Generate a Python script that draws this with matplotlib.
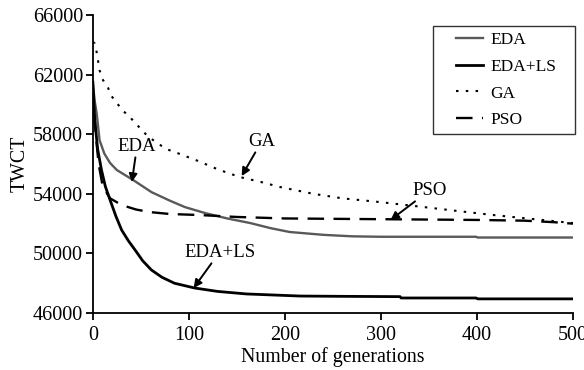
import matplotlib
matplotlib.use("Agg")
import matplotlib.pyplot as plt
from matplotlib.legend_handler import HandlerLine2D
import numpy as np

plt.rcParams['font.family'] = ['Liberation Serif', 'DejaVu Serif']

# Data
eda_x = [0, 2, 4, 7, 12, 18, 25, 42, 61, 80, 96, 117, 140, 164, 185, 205, 240, 270, 300, 350, 399, 401, 450, 500]
eda_y = [61400, 60200, 59400, 57600, 56700, 56070, 55600, 54930, 54120, 53550, 53110, 52710, 52350, 52040, 51700, 51440, 51250, 51150, 51120, 51120, 51120, 51070, 51070, 51070]

edals_x = [0, 2, 5, 9, 13, 18, 24, 30, 37, 44, 52, 61, 72, 85, 106, 130, 160, 216, 260, 320, 321, 399, 401, 500]
edals_y = [61500, 58950, 57000, 55600, 54500, 53580, 52500, 51570, 50850, 50230, 49500, 48890, 48400, 48000, 47680, 47450, 47280, 47140, 47120, 47100, 47010, 47010, 46950, 46950]

ga_x = [0, 2, 4, 7, 10, 16, 19, 25, 31, 38, 45, 56, 66, 77, 91, 110, 130, 153, 175, 195, 230, 260, 299, 340, 380, 417, 460, 500]
ga_y = [64200, 64100, 63500, 62300, 61700, 61100, 60600, 60100, 59600, 59200, 58700, 57950, 57450, 57000, 56670, 56200, 55650, 55130, 54800, 54460, 54000, 53700, 53450, 53150, 52850, 52580, 52300, 52040]

pso_x = [0, 3, 6, 10, 15, 18, 30, 45, 59, 80, 111, 150, 200, 300, 400, 450, 480, 500]
pso_y = [61000, 58000, 56000, 54600, 54000, 53700, 53250, 52950, 52780, 52650, 52580, 52450, 52350, 52300, 52250, 52200, 52100, 52000]

x_ticks = [0, 100, 200, 300, 400, 500]
y_ticks = [46000, 50000, 54000, 58000, 62000, 66000]

fig = plt.figure(figsize=(5.84, 3.70), dpi=100)
ax = fig.add_axes([0.159, 0.154, 0.822, 0.805])

l1, = ax.plot(eda_x, eda_y, color='0.35', lw=1.7, label='EDA')
l2, = ax.plot(edals_x, edals_y, color='black', lw=2.0, label='EDA+LS')
l3, = ax.plot(ga_x, ga_y, color='black', lw=1.5, ls=(0, (1.2, 3.5)), label='GA')
l4, = ax.plot(pso_x, pso_y, color='black', lw=1.7, ls=(0, (7, 4)), label='PSO')

ax.set_xlim(0, 500)
ax.set_ylim(46000, 66000)
ax.set_xticks(x_ticks)
ax.set_yticks(y_ticks)
for s in ['top', 'right']:
    ax.spines[s].set_visible(False)
for s in ['left', 'bottom']:
    ax.spines[s].set_linewidth(1.3)
ax.tick_params(direction='out', length=5, width=1.3, labelsize=14.5)
ax.tick_params(axis='x', pad=4)
ax.tick_params(axis='y', pad=2)
ax.set_xlabel('Number of generations', fontsize=14.3, labelpad=2)
ax.set_ylabel('TWCT', fontsize=14.3, labelpad=2)

hmap = {h: HandlerLine2D(xpad=1.0) for h in (l1, l2, l3, l4)}
leg = ax.legend(handles=[l1, l2, l3, l4], handler_map=hmap,
                loc='upper left', bbox_to_anchor=(0.708, 0.5, 0.296, 0.463), mode='expand',
                fontsize=12.5, frameon=True, fancybox=False, edgecolor='black',
                handlelength=2.55, borderpad=0.35, labelspacing=0.6, handletextpad=0.4,
                borderaxespad=0)
leg.get_frame().set_linewidth(1.0)

arrow = dict(arrowstyle='-|>', color='black', lw=1.4, mutation_scale=12, shrinkA=0, shrinkB=0)
ax.annotate('EDA', xy=(40.6, 54792), xytext=(46, 57208), fontsize=13.5, ha='center', va='center',
            arrowprops=arrow)
ax.annotate('GA', xy=(155, 55195), xytext=(176, 57544), fontsize=13.5, ha='center', va='center',
            arrowprops=arrow)
ax.annotate('PSO', xy=(310, 52242), xytext=(351, 54255), fontsize=13.5, ha='center', va='center',
            arrowprops=arrow)
ax.annotate('EDA+LS', xy=(105, 47678), xytext=(132, 50094), fontsize=13.5, ha='center', va='center',
            arrowprops=arrow)

fig.savefig('out.png', dpi=100)
